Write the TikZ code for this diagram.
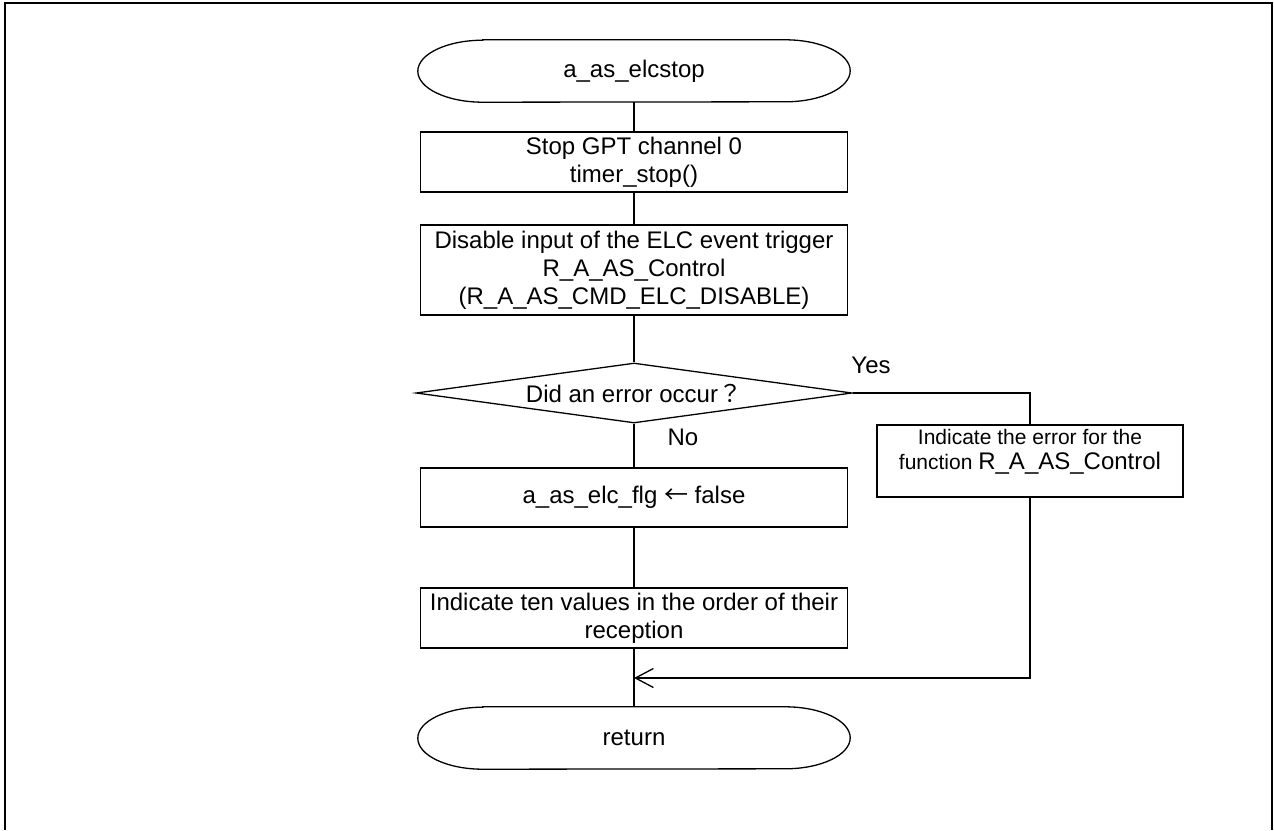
\documentclass[tikz,border=0pt]{standalone}
\usepackage{fontspec}
\setmainfont{Liberation Sans}
\newfontfamily\cjk{Noto Sans CJK JP}
\usetikzlibrary{arrows.meta,shapes.geometric}
\begin{document}
\begin{tikzpicture}[x=1pt,y=-1pt,
  every node/.style={font=\fontsize{24}{28}\selectfont, inner sep=0pt},
  flow/.style={line width=1.3pt},
  stepbox/.style={draw, line width=1.3pt, minimum width=427pt, align=center},
  decision/.style={diamond, draw, line width=1.3pt, minimum width=436pt, minimum height=60pt, shape aspect=7},
  termnode/.style={minimum width=432pt, minimum height=62pt},
  frame/.style={line width=2.5pt}]
\useasboundingbox (0,0) rectangle (1274,830);
\draw[frame] (5,830) -- (5,3) -- (1272,3) -- (1272,830);

\node[termnode] (start) at (634,71) {a\_as\_elcstop};
\draw[flow] ([xshift=65pt]start.north west) -- ([xshift=-65pt]start.north east)
  arc[start angle=-90, end angle=90, x radius=65, y radius=31]
  -- ([xshift=65pt]start.south west)
  arc[start angle=90, end angle=270, x radius=65, y radius=31] -- cycle;

\node[stepbox, minimum height=60pt] (b1) at (634,162) {Stop GPT channel 0\\timer\_stop()};
\node[stepbox, minimum height=90pt] (b2) at (634,270) {Disable input of the ELC event trigger\\R\_A\_AS\_Control\\(R\_A\_AS\_CMD\_ELC\_DISABLE)};
\node[decision] (dec) at (634,393) {Did an error occur{\cjk ？}};
\node[stepbox, minimum height=59pt] (b3) at (634,497.5) {a\_as\_elc\_flg {\cjk ←} false};
\node[stepbox, minimum height=60pt] (b4) at (634,618) {Indicate ten values in the order of their\\reception};
\node[termnode] (ret) at (634,738) {return};
\draw[flow] ([xshift=65pt]ret.north west) -- ([xshift=-65pt]ret.north east)
  arc[start angle=-90, end angle=90, x radius=65, y radius=31]
  -- ([xshift=65pt]ret.south west)
  arc[start angle=90, end angle=270, x radius=65, y radius=31] -- cycle;

\node[draw, line width=1.3pt, minimum width=306pt, minimum height=72pt] (err) at (1030,461) {};
\node[align=center, font=\fontsize{21}{25}\selectfont] (errtext) at (1030,452) {Indicate the error for the\\function {\fontsize{24}{25}\selectfont R\_A\_AS\_Control}};

\node (yes) at (871,365) {Yes};
\node (no) at (683,437) {No};

\coordinate (merge) at (634,678);

\draw[flow] (start.south) -- (b1.north);
\draw[flow] (b1.south) -- (b2.north);
\draw[flow] (b2.south) -- (dec.north);
\draw[flow] (dec.south) -- (b3.north);
\draw[flow] (b3.south) -- (b4.north);
\draw[flow] (b4.south) -- (ret.north);
\draw[flow] (dec.east) -| (err.north);
\draw[flow, -{Straight Barb[length=18pt,width=19pt]}] (err.south) |- (merge);
\end{tikzpicture}
\end{document}
